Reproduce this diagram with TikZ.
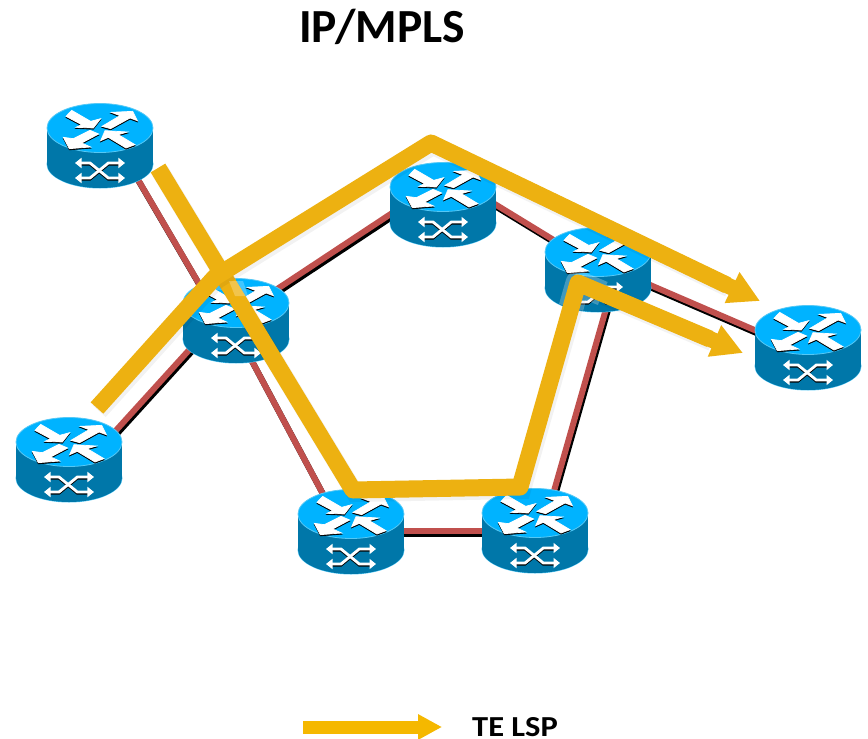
\documentclass[tikz,border=0pt]{standalone}
\usepackage{fontspec}
\setmainfont{Carlito}
\usetikzlibrary{arrows.meta,calc}
\definecolor{rtop}{HTML}{00B3FF}
\definecolor{rside}{HTML}{0077A9}
\definecolor{rrim}{HTML}{55C8F5}
\definecolor{linkred}{HTML}{C0504D}
\definecolor{lspgold}{HTML}{EDB111}
\definecolor{lspleg}{HTML}{F5B800}
\tikzset{
  rnode/.style={minimum width=106pt,minimum height=85pt,inner sep=0pt,outer sep=0pt},
  link/.style={draw=linkred,line width=6pt,preaction={draw=black,line width=6pt,transform canvas={shift={(1.5pt,-2.8pt)}}}},
  lsp/.style={draw=lspgold,line width=17pt,line join=round,preaction={draw=black,draw opacity=.05,line width=18pt,transform canvas={shift={(2pt,-3pt)}}}},
  lsphalo/.style={draw=white,draw opacity=.25,line width=25pt,line join=round},
  lsptip/.style={-{Triangle[length=31pt,width=32pt]}},
  rarrow/.style={fill=white,draw=white,line width=.7pt},
  rshadow/.style={fill=black,draw=black,line width=.7pt},
  xline/.style={draw=white,line width=2.8pt,{Triangle[length=6.5pt,width=10pt]}-{Triangle[length=6.5pt,width=10pt]}},
  xshadow/.style={draw=black,line width=2.6pt},
  router/.pic={
    \fill[rrim] (0,36) ellipse [x radius=53.5,y radius=24.5];
    \fill[rside] (0,36) ellipse [x radius=53,y radius=24];
    \fill[rside] (-53,0) rectangle (53,36);
    \fill[rtop,draw=rrim,line width=.8pt] (0,0) ellipse [x radius=53,y radius=24.5];
    \begin{scope}[scale=.3333,shift={(-180,-90)}]
      \foreach \st/\dy in {rshadow/3.5,rarrow/0}{
        \begin{scope}[shift={(0,\dy)}]
        \path[\st] (95,37)--(152,70)--(182,62)--(160,90)--(108,88)--(125,80)--(78,55)--cycle;
        \path[\st] (186,85)--(240,53)--(214,43)--(278,40)--(292,68)--(270,60)--(212,92)--cycle;
        \path[\st] (150,97)--(100,122)--(70,118)--(88,152)--(152,147)--(125,135)--(176,108)--cycle;
        \path[\st] (182,128)--(195,98)--(262,102)--(235,110)--(285,140)--(258,150)--(205,118)--cycle;
        \end{scope}
      }
      \draw[xshadow] (115,199)--(150,199)--(205,244)--(245,244);
      \draw[xshadow] (115,244)--(150,244)--(205,199)--(245,199);
      \draw[xline] (105,195)--(150,195)--(205,240)--(255,240);
      \draw[xline] (105,240)--(150,240)--(205,195)--(255,195);
    \end{scope}
  }
}
\begin{document}
\begin{tikzpicture}[x=1pt,y=-1pt]
\useasboundingbox (0,0) rectangle (868,739);
\fill[white] (0,0) rectangle (868,739);
% router anchors
\node[rnode] (r1) at (100,146) {};
\node[rnode] (r2) at (236,321) {};
\node[rnode] (r3) at (443,205) {};
\node[rnode] (r4) at (598,270) {};
\node[rnode] (r5) at (808,348) {};
\node[rnode] (r6) at (69,460) {};
\node[rnode] (r7) at (351,531) {};
\node[rnode] (r8) at (535,531) {};
% links
\draw[link] ([shift={(30,20)}]r1.center) -- ([shift={(-21,-10)}]r2.center);
\draw[link] ([shift={(14,-14)}]r2.center) -- ([shift={(-13,-17)}]r3.center);
\draw[link] ([shift={(37,-10)}]r3.center) -- ([shift={(-28,-20)}]r4.center);
\draw[link] ([shift={(22,2)}]r4.center) -- ([shift={(-28,-7)}]r5.center);
\draw[link] ([shift={(-36,17)}]r2.center) -- ([shift={(31,-12)}]r6.center);
\draw[link] ([shift={(2,14)}]r2.center) -- ([shift={(-20,-22)}]r7.center);
\draw[link] (r7.center) -- (r8.center);
\draw[link] ([shift={(5,9)}]r8.center) -- ([shift={(12,25)}]r4.center);
% routers
\foreach \n/\x/\y in {r1/100/128,r2/236/303,r3/443/187,r4/598/252,r5/808/330,r6/69/442,r7/351/514,r8/535/513}{
  \pic at (\x,\y) {router};
}
% LSP waypoints
\coordinate (as) at (97,408);
\coordinate (ab) at (215,277);
\coordinate (ac) at (431,143);
\coordinate (ae) at (760,301);
\coordinate (bs) at (158,168);
\coordinate (bb) at (353,490);
\coordinate (bc) at (520,487);
\coordinate (bd) at (578,283);
\coordinate (be) at (743,353);
\coordinate (la) at (303,727);
\coordinate (lb) at (442,727);
\draw[lsphalo] (r2.center |- ab) -- (ab);
\draw[lsphalo] ($(bd)!.12!(bc)$) -- (bd) -- ($(bd)!.15!(be)$);
\draw[lsp] (bs) -- (bb) -- (bc) -- (bd) -- ($(bd)!.8!(be)$);
\draw[lspgold,line width=16pt,line join=round,lsptip] (bd) -- (be);
\draw[lsp] (as) -- (ab) -- (ac) -- ($(ac)!.9!(ae)$);
\draw[lspgold,line width=16pt,lsptip] (ac) -- (ae);
\fill[white,opacity=.25] (229,281) -- (243,281) -- (248,296) -- (235,296) -- cycle;
\draw[lspleg,line width=13pt,-{Triangle[length=24pt,width=24pt]}] (la) -- (lb);
% texts
\node[font=\fontsize{47.5}{54}\selectfont\bfseries,inner sep=0pt,anchor=base] (title) at (382,42) {IP/MPLS};
\node[font=\fontsize{29}{34}\selectfont\bfseries,inner sep=0pt,anchor=base] (legend) at (515,736) {\scalebox{1.12}[1]{TE LSP}};
\end{tikzpicture}
\end{document}
